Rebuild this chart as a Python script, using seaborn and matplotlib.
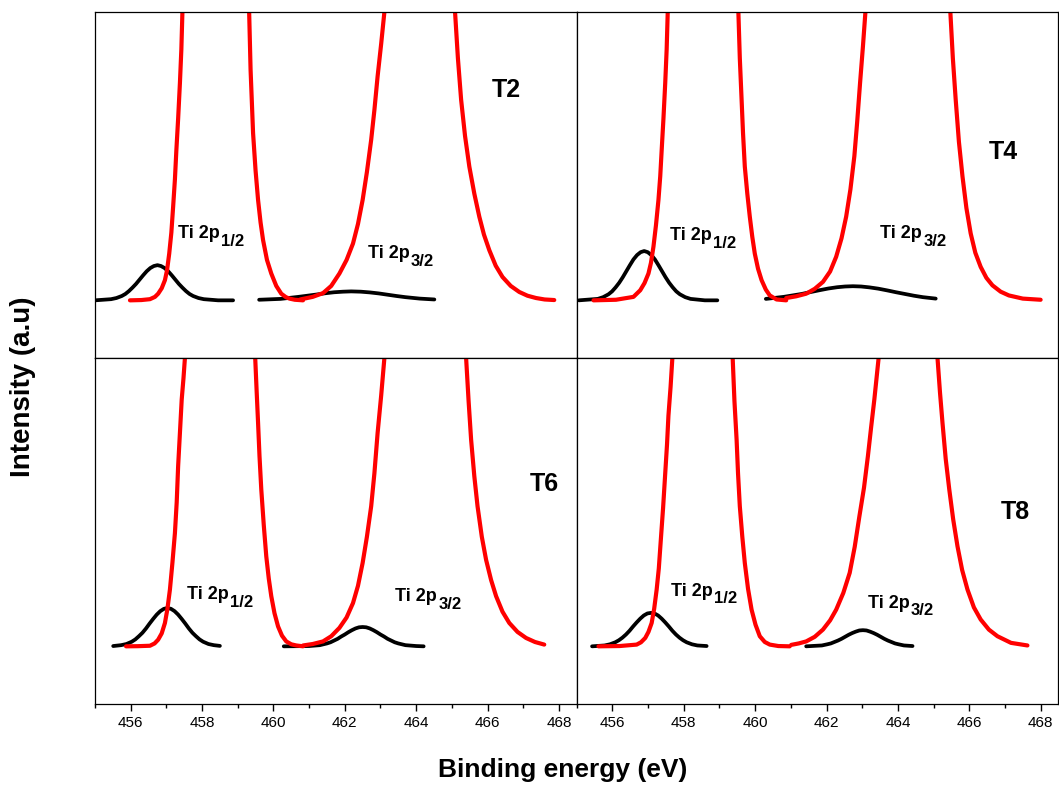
import matplotlib
matplotlib.use("Agg")
import matplotlib.pyplot as plt
import seaborn as sns
from matplotlib.ticker import MultipleLocator

sns.set_style("ticks")
plt.rcParams['font.family'] = ['Liberation Sans', 'DejaVu Sans']
plt.rcParams['text.color'] = 'black'
plt.rcParams['xtick.color'] = 'black'
plt.rcParams['ytick.color'] = 'black'

# ---- data (binding energy in eV, intensity in a.u.) ----
# T2
t2_red1_x = [455.98, 456.3, 456.54, 456.68, 456.77, 456.87, 456.96, 457.02, 457.08, 457.14,
             457.19, 457.24, 457.28, 457.33, 457.38, 457.42, 457.45, 458.4,
             459.32, 459.36, 459.43, 459.5, 459.57, 459.64, 459.71, 459.82, 459.94,
             460.08, 460.22, 460.35, 460.45, 460.6, 460.83]
t2_red1_y = [0.0, 0.001, 0.004, 0.012, 0.023, 0.042, 0.07, 0.105, 0.162, 0.235,
             0.325, 0.42, 0.52, 0.63, 0.754, 0.87, 1.0, 3.0,
             1.0, 0.80, 0.58, 0.45, 0.348, 0.27, 0.209, 0.14, 0.093,
             0.05, 0.023, 0.011, 0.006, 0.002, 0.0]
t2_red2_x = [460.75, 461.1, 461.39, 461.62, 461.85, 462.05, 462.23, 462.37, 462.5, 462.62,
             462.74, 462.83, 462.92, 463.02, 463.11, 464.1,
             465.09, 465.17, 465.26, 465.37, 465.49, 465.63, 465.77, 465.9, 466.05,
             466.23, 466.42, 466.65, 466.89, 467.12, 467.36, 467.6, 467.87]
t2_red2_y = [0.003, 0.012, 0.025, 0.05, 0.093, 0.14, 0.197, 0.265, 0.348, 0.445,
             0.557, 0.66, 0.777, 0.89, 1.0, 3.0,
             1.0, 0.84, 0.696, 0.57, 0.464, 0.37, 0.29, 0.228, 0.174,
             0.12, 0.081, 0.05, 0.029, 0.016, 0.008, 0.003, 0.001]
t2_blk1_x = [455.0, 455.45, 455.6, 455.75, 455.85, 455.95, 456.05, 456.15, 456.25, 456.35,
             456.45, 456.55, 456.65, 456.75, 456.85, 456.95, 457.05, 457.15, 457.25,
             457.35, 457.45, 457.55, 457.65, 457.75, 457.9, 458.05, 458.45, 458.87]
t2_blk1_y = [0.0, 0.004, 0.008, 0.015, 0.022, 0.032, 0.044, 0.057, 0.072, 0.087,
             0.101, 0.112, 0.119, 0.122, 0.119, 0.112, 0.101, 0.087, 0.072,
             0.057, 0.044, 0.032, 0.022, 0.015, 0.008, 0.004, 0.0, 0.0]
t2_blk2_x = [459.6, 460.2, 460.7, 461.2, 461.45, 461.7, 461.95, 462.18, 462.45, 462.7,
             462.95, 463.2, 463.45, 463.7, 464.1, 464.51]
t2_blk2_y = [0.002, 0.005, 0.012, 0.020, 0.0245, 0.028, 0.030, 0.031, 0.030, 0.0275,
             0.024, 0.0195, 0.015, 0.011, 0.006, 0.003]

# T4
t4_red1_x = [455.47, 456.1, 456.59, 456.78, 456.9, 457.01, 457.08, 457.15, 457.22, 457.29,
             457.34, 457.38, 457.43, 457.48, 457.52, 457.55, 458.5,
             459.53, 459.57, 459.62, 459.66, 459.71, 459.78, 459.85, 459.92, 459.99,
             460.08, 460.18, 460.3, 460.41, 460.6, 460.87]
t4_red1_y = [0.0, 0.002, 0.012, 0.035, 0.06, 0.093, 0.13, 0.186, 0.26, 0.348,
             0.43, 0.52, 0.63, 0.754, 0.87, 1.0, 3.0,
             1.0, 0.84, 0.696, 0.58, 0.464, 0.37, 0.29, 0.22, 0.162,
             0.11, 0.07, 0.037, 0.017, 0.003, 0.0]
t4_red2_x = [460.87, 461.15, 461.43, 461.67, 461.9, 462.1, 462.27, 462.42, 462.55, 462.67,
             462.78, 462.86, 462.94, 463.02, 463.09, 464.3,
             465.47, 465.54, 465.62, 465.71, 465.81, 465.92, 466.04, 466.17, 466.32,
             466.48, 466.65, 466.88, 467.11, 467.5, 468.0]
t4_red2_y = [0.008, 0.014, 0.023, 0.04, 0.064, 0.1, 0.151, 0.215, 0.29, 0.385,
             0.5, 0.62, 0.754, 0.88, 1.0, 3.0,
             1.0, 0.84, 0.696, 0.55, 0.43, 0.32, 0.232, 0.165, 0.116,
             0.078, 0.052, 0.03, 0.017, 0.006, 0.002]
t4_blk1_x = [455.06, 455.59, 455.74, 455.89, 455.99, 456.09, 456.19, 456.29, 456.39, 456.49,
             456.59, 456.69, 456.79, 456.89, 456.99, 457.09, 457.19, 457.29, 457.39,
             457.49, 457.59, 457.69, 457.79, 457.89, 458.04, 458.19, 458.59, 458.94]
t4_blk1_y = [0.0, 0.005, 0.011, 0.021, 0.031, 0.045, 0.061, 0.080, 0.101, 0.122,
             0.142, 0.157, 0.167, 0.171, 0.167, 0.157, 0.142, 0.122, 0.101,
             0.080, 0.061, 0.045, 0.031, 0.021, 0.011, 0.005, 0.0, 0.0]
t4_blk2_x = [460.3, 460.8, 461.3, 461.55, 461.8, 462.05, 462.3, 462.52, 462.74, 462.97,
             463.2, 463.45, 463.7, 463.95, 464.2, 464.45, 464.7, 465.06]
t4_blk2_y = [0.005, 0.012, 0.022, 0.0286, 0.035, 0.041, 0.0455, 0.048, 0.049, 0.048,
             0.045, 0.0405, 0.0345, 0.028, 0.022, 0.016, 0.011, 0.006]

# T6
t6_red1_x = [455.87, 456.2, 456.54, 456.67, 456.77, 456.87, 456.96, 457.03, 457.1, 457.17,
             457.24, 457.29, 457.33, 457.38, 457.43, 457.48, 457.52, 458.5,
             459.49, 459.53, 459.57, 459.61, 459.66, 459.73, 459.8, 459.87, 459.94,
             460.03, 460.13, 460.24, 460.36, 460.5, 460.64, 460.83]
t6_red1_y = [0.0, 0.0005, 0.002, 0.01, 0.023, 0.045, 0.081, 0.13, 0.197, 0.29,
             0.393, 0.5, 0.625, 0.74, 0.856, 0.93, 1.0, 3.0,
             1.0, 0.885, 0.775, 0.66, 0.544, 0.42, 0.312, 0.235, 0.174,
             0.115, 0.069, 0.037, 0.017, 0.007, 0.003, 0.0]
t6_red2_x = [460.83, 461.1, 461.39, 461.62, 461.85, 462.05, 462.23, 462.37, 462.5, 462.62,
             462.74, 462.83, 462.92, 463.02, 463.11, 464.3,
             465.4, 465.47, 465.54, 465.63, 465.72, 465.84, 465.96, 466.1, 466.24,
             466.42, 466.61, 466.84, 467.08, 467.33, 467.59]
t6_red2_y = [0.003, 0.008, 0.017, 0.035, 0.064, 0.1, 0.15, 0.21, 0.289, 0.38,
             0.486, 0.6, 0.74, 0.87, 1.0, 3.0,
             1.0, 0.85, 0.717, 0.59, 0.486, 0.38, 0.30, 0.23, 0.174,
             0.12, 0.081, 0.05, 0.029, 0.015, 0.006]
t6_blk1_x = [455.51, 455.73, 455.88, 456.03, 456.13, 456.23, 456.33, 456.43, 456.53, 456.63,
             456.73, 456.83, 456.93, 457.03, 457.13, 457.23, 457.33, 457.43, 457.53,
             457.63, 457.73, 457.83, 457.93, 458.03, 458.18, 458.33, 458.5]
t6_blk1_y = [0.001, 0.004, 0.008, 0.016, 0.024, 0.035, 0.047, 0.062, 0.079, 0.095,
             0.110, 0.122, 0.130, 0.133, 0.130, 0.122, 0.110, 0.095, 0.079,
             0.062, 0.047, 0.035, 0.024, 0.016, 0.008, 0.004, 0.0015]
t6_blk2_x = [460.29, 461.0, 461.3, 461.5, 461.6, 461.7, 461.8, 461.9, 462.0, 462.1,
             462.2, 462.3, 462.4, 462.5, 462.6, 462.7, 462.8, 462.9, 463.0,
             463.1, 463.2, 463.3, 463.4, 463.5, 463.7, 464.0, 464.21]
t6_blk2_y = [0.0, 0.001, 0.004, 0.010, 0.014, 0.020, 0.026, 0.034, 0.041, 0.049,
             0.056, 0.062, 0.066, 0.067, 0.066, 0.062, 0.056, 0.049, 0.041,
             0.034, 0.026, 0.020, 0.014, 0.010, 0.004, 0.001, 0.0]

# T8
t8_red1_x = [455.61, 456.2, 456.68, 456.8, 456.92, 457.01, 457.1, 457.17, 457.24, 457.3,
             457.35, 457.42, 457.48, 457.53, 457.57, 457.63, 457.68, 458.5,
             459.37, 459.42, 459.48, 459.52, 459.57, 459.64, 459.71, 459.8, 459.9,
             460.01, 460.13, 460.27, 460.41, 460.65, 460.97]
t8_red1_y = [0.0, 0.001, 0.006, 0.014, 0.029, 0.05, 0.081, 0.13, 0.197, 0.27,
             0.358, 0.48, 0.6, 0.7, 0.8, 0.9, 1.0, 3.0,
             1.0, 0.85, 0.717, 0.6, 0.486, 0.38, 0.289, 0.2, 0.127,
             0.075, 0.035, 0.015, 0.006, 0.001, 0.0]
t8_red2_x = [461.01, 461.22, 461.43, 461.67, 461.9, 462.1, 462.27, 462.47, 462.65, 462.79,
             462.92, 463.05, 463.16, 463.25, 463.34, 463.46, 464.3,
             465.11, 465.18, 465.25, 465.34, 465.44, 465.55, 465.67, 465.8, 465.95,
             466.13, 466.32, 466.55, 466.79, 467.17, 467.63]
t8_red2_y = [0.005, 0.01, 0.017, 0.033, 0.058, 0.09, 0.127, 0.185, 0.255, 0.345,
             0.45, 0.55, 0.66, 0.76, 0.856, 1.0, 3.0,
             1.0, 0.88, 0.775, 0.65, 0.544, 0.44, 0.347, 0.265, 0.197,
             0.135, 0.093, 0.058, 0.035, 0.012, 0.003]
t8_blk1_x = [455.43, 455.78, 455.93, 456.08, 456.18, 456.28, 456.38, 456.48, 456.58, 456.68,
             456.78, 456.88, 456.98, 457.08, 457.18, 457.28, 457.38, 457.48, 457.58,
             457.68, 457.78, 457.88, 457.98, 458.08, 458.23, 458.38, 458.64]
t8_blk1_y = [0.0, 0.003, 0.007, 0.014, 0.021, 0.030, 0.041, 0.054, 0.069, 0.083,
             0.096, 0.107, 0.114, 0.116, 0.114, 0.107, 0.096, 0.083, 0.069,
             0.054, 0.041, 0.030, 0.021, 0.014, 0.007, 0.003, 0.001]
t8_blk2_x = [461.43, 461.72, 461.87, 462.02, 462.12, 462.22, 462.32, 462.42, 462.52, 462.62,
             462.72, 462.82, 462.92, 463.02, 463.12, 463.22, 463.32, 463.42, 463.52,
             463.62, 463.72, 463.82, 463.92, 464.02, 464.17, 464.41]
t8_blk2_y = [0.0, 0.002, 0.003, 0.007, 0.010, 0.015, 0.020, 0.026, 0.033, 0.040,
             0.046, 0.051, 0.055, 0.056, 0.055, 0.051, 0.046, 0.040, 0.033,
             0.026, 0.020, 0.015, 0.010, 0.007, 0.003, 0.001]

sample_names = ["T2", "T4", "T6", "T8"]
x_ticks = [456, 458, 460, 462, 464, 466, 468]

panels = [
    dict(red=[(t2_red1_x, t2_red1_y), (t2_red2_x, t2_red2_y)],
         black=[(t2_blk1_x, t2_blk1_y), (t2_blk2_x, t2_blk2_y)],
         name_pos=(466.13, 0.706), p12_pos=(457.33, 0.216), p32_pos=(462.64, 0.146)),
    dict(red=[(t4_red1_x, t4_red1_y), (t4_red2_x, t4_red2_y)],
         black=[(t4_blk1_x, t4_blk1_y), (t4_blk2_x, t4_blk2_y)],
         name_pos=(466.56, 0.489), p12_pos=(457.62, 0.209), p32_pos=(463.5, 0.215)),
    dict(red=[(t6_red1_x, t6_red1_y), (t6_red2_x, t6_red2_y)],
         black=[(t6_blk1_x, t6_blk1_y), (t6_blk2_x, t6_blk2_y)],
         name_pos=(467.17, 0.538), p12_pos=(457.58, 0.164), p32_pos=(463.42, 0.156)),
    dict(red=[(t8_red1_x, t8_red1_y), (t8_red2_x, t8_red2_y)],
         black=[(t8_blk1_x, t8_blk1_y), (t8_blk2_x, t8_blk2_y)],
         name_pos=(466.87, 0.44), p12_pos=(457.63, 0.176), p32_pos=(463.16, 0.133)),
]


def peak_label(ax, pos, sub):
    """Bold 'Ti 2p' with a slightly smaller subscript"""
    t = ax.text(pos[0], pos[1], "Ti 2p", fontsize=13, fontweight="bold",
                ha="left", va="baseline")
    ax.annotate(sub, xy=(1, 0), xycoords=t, xytext=(1, -2.5),
                textcoords="offset points", fontsize=12, fontweight="bold",
                ha="left", va="baseline")


fig, axes = plt.subplots(2, 2, figsize=(10.59, 7.85), dpi=100, sharex=True, sharey=True)
fig.subplots_adjust(left=0.0897, right=0.9995, top=0.9847, bottom=0.1032,
                    wspace=0, hspace=0)

for ax, name, p in zip(axes.flat, sample_names, panels):
    for bx, by in p["black"]:
        sns.lineplot(x=bx, y=by, ax=ax, color="black", lw=2.7, estimator=None, sort=False)
    for rx, ry in p["red"]:
        sns.lineplot(x=rx, y=ry, ax=ax, color="#ff0000", lw=3.0, estimator=None, sort=False)

    ax.text(p["name_pos"][0], p["name_pos"][1], name, fontsize=18,
            fontweight="bold", ha="left", va="baseline")
    peak_label(ax, p["p12_pos"], "1/2")
    peak_label(ax, p["p32_pos"], "3/2")

    ax.set_xlim(455.0, 468.5)
    ax.set_ylim(-0.2, 1.0)
    ax.set_xlabel("")
    ax.set_ylabel("")
    ax.set_yticks([])
    for s in ax.spines.values():
        s.set_visible(True)
        s.set_color("black")
        s.set_linewidth(0.9)

for ax in axes[0]:
    ax.tick_params(axis="x", which="both", length=0, labelbottom=False)

for ax in axes[1]:
    ax.set_xticks(x_ticks)
    ax.xaxis.set_minor_locator(MultipleLocator(1))
    ax.tick_params(axis="x", which="major", direction="out", length=5, width=1,
                   labelsize=11, pad=4, color="black")
    ax.tick_params(axis="x", which="minor", direction="out", length=3, width=1,
                   color="black")

fig.text(0.5316, 0.0106, "Binding energy (eV)", ha="center", va="baseline",
         fontsize=19, fontweight="bold")
fig.text(0.0217, 0.5074, "Intensity (a.u)", ha="center", va="center",
         rotation=90, fontsize=20, fontweight="bold")

plt.savefig("out.png", dpi=100)
plt.close()
